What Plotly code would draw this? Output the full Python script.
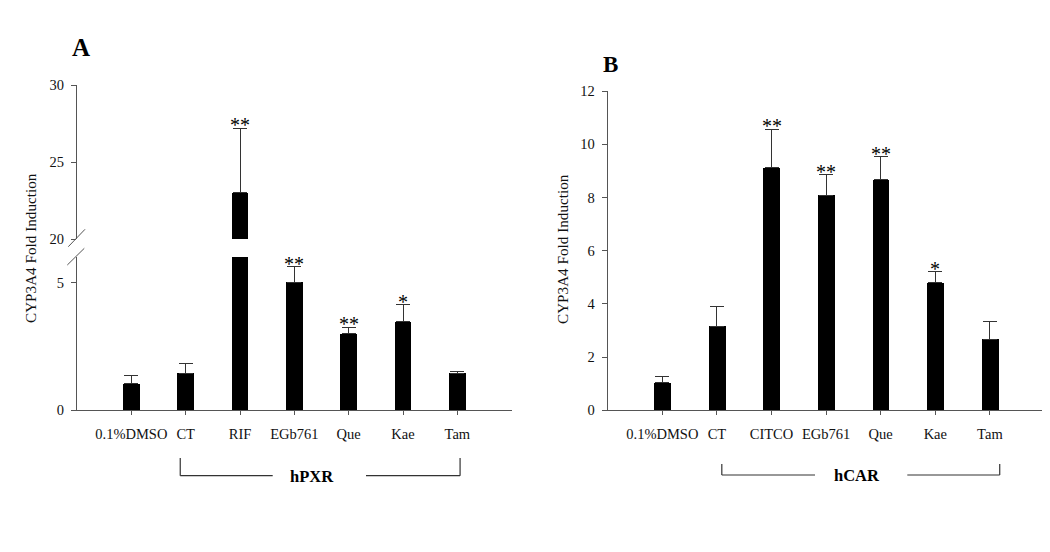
import plotly.graph_objects as go

# ---------------- data ----------------
cats_A = ["0.1%DMSO", "CT", "RIF", "EGb761", "Que", "Kae", "Tam"]
vals_A = [1.03, 1.45, 23.0, 5.01, 2.99, 3.46, 1.45]
err_A = [0.32, 0.37, 4.2, 0.61, 0.26, 0.68, 0.07]
sig_A = ["", "", "**", "**", "**", "*", ""]

cats_B = ["0.1%DMSO", "CT", "CITCO", "EGb761", "Que", "Kae", "Tam"]
vals_B = [1.04, 3.16, 9.12, 8.08, 8.67, 4.80, 2.67]
err_B = [0.22, 0.76, 1.44, 0.78, 0.85, 0.41, 0.65]
sig_B = ["", "", "**", "**", "**", "*", ""]

group_A = "hPXR"
group_B = "hCAR"
ytitle = "CYP3A4 Fold Induction"

# ---------------- layout constants ----------------
W, H = 1050, 552
OFF = 8  # page body margin in the browser
FONT = "Liberation Serif"
AXC = "#555555"

def px_x(p):
    return (p - OFF) / W

def px_y(p):
    return 1 - (p - OFF) / H

domA_x = [px_x(77), px_x(511.7)]
domA_lo = [px_y(410.3), px_y(257)]
domA_hi = [px_y(239), px_y(85)]
domB_x = [px_x(607.7), px_x(1044.5)]
domB_y = [px_y(410.3), px_y(91)]
XR = [-1, 7]

def xpaper(dom, xi):
    return dom[0] + (xi - XR[0]) / (XR[1] - XR[0]) * (dom[1] - dom[0])

idx = list(range(len(cats_A)))
BW = 0.31
errstyle = dict(type="data", symmetric=False, arrayminus=[0] * 7, color="#333333",
                thickness=1, width=7)

fig = go.Figure()
fig.add_trace(go.Bar(x=idx, y=vals_A, width=BW, marker=dict(color="black", line=dict(width=0)),
                     error_y=dict(array=[e if v < 6 else 0 for v, e in zip(vals_A, err_A)], **errstyle),
                     xaxis="x", yaxis="y", showlegend=False, hoverinfo="skip"))
fig.add_trace(go.Bar(x=idx, y=[v if v > 20 else 0 for v in vals_A], width=BW,
                     marker=dict(color="black", line=dict(width=0)),
                     error_y=dict(array=[e if v > 20 else 0 for v, e in zip(vals_A, err_A)], **errstyle),
                     xaxis="x", yaxis="y2", showlegend=False, hoverinfo="skip"))
fig.add_trace(go.Bar(x=idx, y=vals_B, width=BW, marker=dict(color="black", line=dict(width=0)),
                     error_y=dict(array=err_B, **errstyle),
                     xaxis="x2", yaxis="y3", showlegend=False, hoverinfo="skip"))

tickfont = dict(family=FONT, size=14.5, color="#111111")
common_y = dict(showgrid=False, zeroline=False, showline=True, linecolor=AXC, linewidth=1,
                ticks="outside", ticklen=5, tickcolor=AXC, tickfont=tickfont,
                ticklabelstandoff=4, fixedrange=True, automargin=False)
common_x = dict(showgrid=False, zeroline=False, showline=True, linecolor=AXC, linewidth=1,
                ticks="outside", ticklen=4, tickcolor=AXC, tickfont=tickfont, range=XR,
                tickvals=idx, ticklabelstandoff=6, fixedrange=True, automargin=False)

fig.update_layout(
    width=W, height=H, margin=dict(l=0, r=0, t=0, b=0, pad=0, autoexpand=False),
    paper_bgcolor="white", plot_bgcolor="white", bargap=0,
    xaxis=dict(domain=domA_x, anchor="y", ticktext=cats_A, **common_x),
    yaxis=dict(domain=domA_lo, anchor="x", range=[0, 6], tickvals=[0, 5], **common_y),
    yaxis2=dict(domain=domA_hi, anchor="x", range=[20, 30], tickvals=[20, 25, 30], **common_y),
    xaxis2=dict(domain=domB_x, anchor="y3", ticktext=cats_B, **common_x),
    yaxis3=dict(domain=domB_y, anchor="x2", range=[0, 12], tickvals=list(range(0, 13, 2)), **common_y),
)

ann = []
starfont = dict(family=FONT, size=20, color="black")
for i, (v, e, s) in enumerate(zip(vals_A, err_A, sig_A)):
    if s:
        ann.append(dict(x=i, y=v + e, xref="x", yref="y2" if v > 20 else "y", text=s,
                        showarrow=False, xanchor="center", yanchor="bottom", yshift=-10,
                        font=starfont))
for i, (v, e, s) in enumerate(zip(vals_B, err_B, sig_B)):
    if s:
        ann.append(dict(x=i, y=v + e, xref="x2", yref="y3", text=s,
                        showarrow=False, xanchor="center", yanchor="bottom", yshift=-10,
                        font=starfont))

def label(xp, yp, text, size, angle=0, color="black"):
    return dict(x=px_x(xp), y=px_y(yp), xref="paper", yref="paper", text=text, textangle=angle,
                showarrow=False, xanchor="center", yanchor="middle",
                font=dict(family=FONT, size=size, color=color))

ann.append(label(31, 248, ytitle, 15.2, -90, "#111111"))
ann.append(label(562, 249, ytitle, 15.2, -90, "#111111"))
ann.append(label(80.5, 48, "<b>A</b>", 25))
ann.append(label(610, 64.5, "<b>B</b>", 23))
ann.append(label(311.7, 476, "<b>%s</b>" % group_A, 16.5))
ann.append(label(856.7, 475, "<b>%s</b>" % group_B, 16.5))
fig.update_layout(annotations=ann)

shapes = []
line = dict(color="#333333", width=1.2)
xa0, xa1 = xpaper(domA_x, 0.9), xpaper(domA_x, 6.05)
ytop, ybot = px_y(458), px_y(475.7)
shapes += [
    dict(type="line", xref="paper", yref="paper", x0=xa0, x1=xa0, y0=ytop, y1=ybot, line=line),
    dict(type="line", xref="paper", yref="paper", x0=xa0, x1=px_x(272.7), y0=ybot, y1=ybot, line=line),
    dict(type="line", xref="paper", yref="paper", x0=px_x(366), x1=xa1, y0=ybot, y1=ybot, line=line),
    dict(type="line", xref="paper", yref="paper", x0=xa1, x1=xa1, y0=ybot, y1=ytop, line=line),
]
xb0, xb1 = xpaper(domB_x, 1.09), xpaper(domB_x, 6.18)
ytop, ybot = px_y(464), px_y(475)
shapes += [
    dict(type="line", xref="paper", yref="paper", x0=xb0, x1=xb0, y0=ytop, y1=ybot, line=line),
    dict(type="line", xref="paper", yref="paper", x0=xb0, x1=px_x(815), y0=ybot, y1=ybot, line=line),
    dict(type="line", xref="paper", yref="paper", x0=px_x(907.3), x1=xb1, y0=ybot, y1=ybot, line=line),
    dict(type="line", xref="paper", yref="paper", x0=xb1, x1=xb1, y0=ybot, y1=ytop, line=line),
]
shapes += [
    dict(type="line", xref="paper", yref="paper", x0=px_x(68.3), y0=px_y(246.7), x1=px_x(85), y1=px_y(229.3),
         line=dict(color=AXC, width=1)),
    dict(type="line", xref="paper", yref="paper", x0=px_x(67.3), y0=px_y(265), x1=px_x(84.3), y1=px_y(248.3),
         line=dict(color=AXC, width=1)),
]
fig.update_layout(shapes=shapes)

fig.write_html("out.html")
